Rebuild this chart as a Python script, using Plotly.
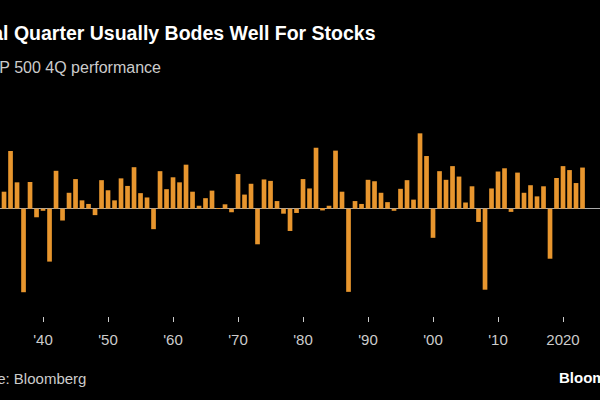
import plotly.graph_objects as go

years = list(range(1934, 2024))
q4_returns = [
    4.7, 16.0, 7.3, -23.2, 7.4, -2.4, -0.6, -14.7, 10.5, -3.3,   # 1934-1943
    4.4, 8.2, 2.3, 1.3, -1.8, 7.9, 5.1, 2.3, 8.4, 6.3,           # 1944-1953
    11.5, 4.3, 3.1, -5.7, 10.4, 5.4, 8.7, 7.3, 12.2, 4.7,        # 1954-1963
    0.8, 2.9, 5.0, 0.1, 1.2, -1.0, 9.6, 3.9, 6.9, -9.9,          # 1964-1973
    8.1, 7.7, 2.1, -1.4, -6.2, -1.2, 8.2, 5.6, 16.9, -0.5,       # 1974-1983
    0.8, 16.1, 4.7, -23.1, 2.1, 1.3, 8.0, 7.6, 4.4, 1.8,         # 1984-1993
    -0.6, 5.5, 7.9, 2.5, 20.9, 14.6, -8.1, 10.4, 8.0, 11.8,      # 1994-2003
    8.9, 1.7, 6.2, -3.7, -22.5, 5.6, 10.3, 11.2, -0.9, 10.0,     # 2004-2013
    4.4, 6.5, 3.4, 6.2, -13.9, 8.5, 11.8, 10.7, 7.1, 11.4,       # 2014-2023
]
tick_vals = [1940, 1950, 1960, 1970, 1980, 1990, 2000, 2010, 2020]
tick_text = ["'40", "'50", "'60", "'70", "'80", "'90", "'00", "'10", "2020"]

title_text = "Final Quarter Usually Bodes Well For Stocks"
subtitle_text = "S&P 500 4Q performance"
source_text = "Source: Bloomberg"
brand_text = "Bloomberg"

W, H = 600, 400
TOP, BOTTOM = 120, 84
PLOT_H = H - TOP - BOTTOM
FONT = "Liberation Sans, Arial, sans-serif"


def py(pixel_y):
    # convert a pixel y (from top of figure) to paper coordinates
    return (H - BOTTOM - pixel_y) / PLOT_H


fig = go.Figure(
    go.Bar(
        x=years,
        y=q4_returns,
        marker=dict(color="#E8962E", line=dict(width=0)),
        hoverinfo="x+y",
    )
)

fig.update_layout(
    width=W,
    height=H,
    paper_bgcolor="#000000",
    plot_bgcolor="#000000",
    margin=dict(l=0, r=0, t=TOP, b=BOTTOM),
    bargap=0.28,
    showlegend=False,
    font=dict(family=FONT, color="#cccccc"),
)

fig.update_xaxes(
    range=[1933.38, 2025.69],
    tickmode="array",
    tickvals=tick_vals,
    ticktext=tick_text,
    ticks="outside",
    ticklen=5,
    tickwidth=1,
    tickcolor="#cccccc",
    tickfont=dict(size=15, color="#cccccc", family=FONT),
    ticklabelstandoff=5,
    showgrid=False,
    showline=False,
    zeroline=False,
)
fig.update_yaxes(
    range=[-29.8, 24.6],
    showticklabels=False,
    showgrid=False,
    zeroline=True,
    zerolinecolor="#aaaaaa",
    zerolinewidth=1,
    showline=False,
)

fig.add_annotation(
    text="<b>" + title_text + "</b>", xref="paper", yref="paper",
    x=378 / W, y=py(33), xanchor="right", yanchor="middle",
    showarrow=False, font=dict(size=19.5, color="#ffffff", family=FONT),
)
fig.add_annotation(
    text=subtitle_text, xref="paper", yref="paper",
    x=163 / W, y=py(68), xanchor="right", yanchor="middle",
    showarrow=False, font=dict(size=16, color="#cccccc", family=FONT),
)
fig.add_annotation(
    text=source_text, xref="paper", yref="paper",
    x=88 / W, y=py(378), xanchor="right", yanchor="middle",
    showarrow=False, font=dict(size=15, color="#cccccc", family=FONT),
)
fig.add_annotation(
    text="<b>" + brand_text + "</b>", xref="paper", yref="paper",
    x=557 / W, y=py(377), xanchor="left", yanchor="middle",
    showarrow=False, font=dict(size=15, color="#ffffff", family=FONT),
)

fig.write_html("out.html")
